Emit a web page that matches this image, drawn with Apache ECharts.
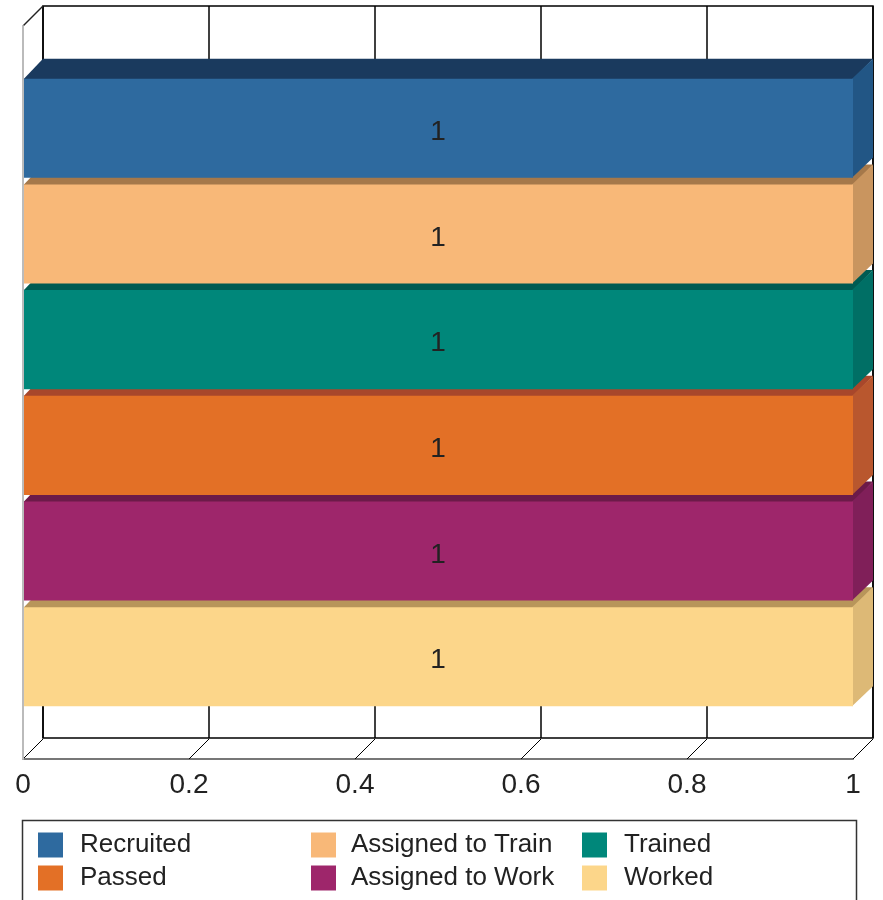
<!DOCTYPE html>
<html><head><meta charset="utf-8">
<script src="https://cdn.jsdelivr.net/npm/echarts@6/dist/echarts.min.js"></script>
<style>html,body{margin:0;padding:0;background:#fff}#c{width:883px;height:900px}</style>
</head><body><div id="c"></div>
<script>
// ---- data ----
const categories = [''];
const seriesNames = ['Recruited', 'Assigned to Train', 'Trained', 'Passed', 'Assigned to Work', 'Worked'];
const values = [1, 1, 1, 1, 1, 1];
const xTicks = [0, 0.2, 0.4, 0.6, 0.8, 1];
const legendCols = [['Recruited', 'Passed'], ['Assigned to Train', 'Assigned to Work'], ['Trained', 'Worked']];

// ---- styles ----
const frontColors = ['#2E6A9F', '#F8B878', '#00877A', '#E37026', '#9E266B', '#FCD68A'];
const topColors   = ['#1A3A5E', '#A5784A', '#005B52', '#A8472B', '#6C1A49', '#B8955A'];
const sideColors  = ['#225685', '#C9955F', '#006F65', '#B9572E', '#801F59', '#DDB976'];
const D = 20;          // 3D depth offset (px)
const SLOT = 0.1442;   // bar slot as fraction of category band
const BAR = 0.938;     // bar thickness as fraction of slot
const LABEL_DY = 4;    // label vertical nudge
const FONT = '"Liberation Sans", Arial, sans-serif';

const chart = echarts.init(document.getElementById('c'), null, {renderer: 'canvas'});
const n = seriesNames.length;

function barRenderer(k) {
  return function (params, api) {
    const v = api.value(0);
    const c0 = api.coord([0, api.value(1)]);
    const c1 = api.coord([v, api.value(1)]);
    const band = api.size([0, 1])[1];
    const slot = band * SLOT;
    const h = slot * BAR;
    const yc = c0[1] + (k - (n - 1) / 2) * slot;
    const y0 = yc - h / 2, y1 = yc + h / 2;
    const xa = c0[0], xb = c1[0];
    return {
      type: 'group',
      children: [
        {type: 'polygon', shape: {points: [[xa, y0 + 1], [xb, y0 + 1], [xb + D, y0 - D], [xa + D, y0 - D]]}, style: {fill: topColors[k]}},
        {type: 'polygon', shape: {points: [[xb - 1, y0], [xb + D, y0 - D], [xb + D, y1 - D], [xb - 1, y1]]}, style: {fill: sideColors[k]}},
        {type: 'rect', shape: {x: xa, y: y0, width: xb - xa, height: h}, style: {fill: frontColors[k]}},
        {type: 'text', style: {x: (xa + xb) / 2, y: yc + LABEL_DY, text: String(v), fill: '#222', font: '28px ' + FONT, align: 'center', verticalAlign: 'middle'}}
      ]
    };
  };
}

function frameRenderer(params, api) {
  const v = api.value(0);
  const cs = params.coordSys;
  const p = api.coord([v, 0]);
  const yb = cs.y + cs.height;
  const children = [
    {type: 'line', shape: {x1: p[0], y1: yb, x2: p[0] + D, y2: yb - D}, style: {stroke: '#000', lineWidth: 1}}
  ];
  if (params.dataIndex === 0) {
    children.push({type: 'line', shape: {x1: p[0], y1: cs.y, x2: p[0] + D, y2: cs.y - D}, style: {stroke: '#222', lineWidth: 1.5}});
  }
  return {type: 'group', children: children};
}

const series = [{
  type: 'custom', name: '__frame', xAxisIndex: 0, yAxisIndex: 0, z: 1, silent: true,
  renderItem: frameRenderer, data: xTicks.map(t => [t, 0]), encode: {x: 0, y: 1}
}];
seriesNames.forEach((name, k) => {
  series.push({
    type: 'custom', name: name, xAxisIndex: 0, yAxisIndex: 0,
    z: 3 + (n - k),
    itemStyle: {color: frontColors[k]},
    renderItem: barRenderer(k),
    data: [[values[k], 0]],
    encode: {x: 0, y: 1}
  });
});

const legendLefts = [38, 311, 582];
const legends = legendCols.map((col, i) => ({
  orient: 'vertical', left: legendLefts[i], top: 832, padding: 0,
  itemWidth: 25, itemHeight: 25, itemGap: 7, icon: 'rect',
  selectedMode: false,
  data: col,
  textStyle: {fontSize: 26, color: '#222', fontFamily: FONT, padding: [0, 0, 0, i === 1 ? 10 : 12]}
}));

chart.setOption({
  animation: false,
  color: frontColors,
  grid: [
    {left: 23, right: 30, top: 26, bottom: 141},
    {left: 43, right: 10, top: 6, bottom: 162, show: true, borderColor: '#000', borderWidth: 1.5, backgroundColor: 'transparent'}
  ],
  xAxis: [
    {gridIndex: 0, type: 'value', min: 0, max: 1, interval: 0.2,
      axisLine: {show: true, lineStyle: {color: '#777', width: 2}},
      axisTick: {show: false}, splitLine: {show: false},
      axisLabel: {fontSize: 28, color: '#222', margin: 12, fontFamily: FONT}},
    {gridIndex: 1, type: 'value', min: 0, max: 1, interval: 0.2,
      axisLine: {show: false}, axisTick: {show: false}, axisLabel: {show: false},
      splitLine: {show: true, lineStyle: {color: '#000', width: 1.5}}}
  ],
  yAxis: [
    {gridIndex: 0, type: 'category', data: categories, z: 20,
      axisLine: {show: true, lineStyle: {color: '#bbb', width: 2}},
      axisTick: {show: false}, axisLabel: {show: false}, splitLine: {show: false}},
    {gridIndex: 1, type: 'category', data: categories, show: false}
  ],
  legend: legends,
  graphic: [{
    type: 'rect', left: 20, top: 818, z: 0,
    shape: {width: 834, height: 100},
    style: {fill: 'none', stroke: '#333', lineWidth: 1.5}
  }],
  series: series
});
</script>
</body></html>
